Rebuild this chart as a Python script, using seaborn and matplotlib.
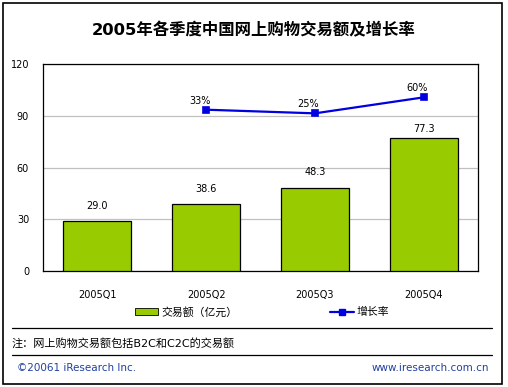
import numpy as np
import matplotlib
matplotlib.use("Agg")
import matplotlib.pyplot as plt
import matplotlib.patches as mpatches
import matplotlib.lines as mlines
import seaborn as sns

# ── Data ─────────────────────────────────────────────────────
quarters = ["2005Q1", "2005Q2", "2005Q3", "2005Q4"]
volume = [29.0, 38.6, 48.3, 77.3]          # 交易额（亿元）
growth_quarters = ["2005Q2", "2005Q3", "2005Q4"]
growth = [33, 25, 60]                       # 增长率 %
yticks = [0, 30, 60, 90, 120]

GREEN = "#99CC00"
BLUE = "#0000E0"
FOOT = "#2040A0"

sns.set_theme(style="white")
FONTS = ["DejaVu Sans", "Noto Sans CJK SC"]
plt.rcParams["font.family"] = FONTS
plt.rcParams["text.color"] = "black"

W, H = 508, 387
fig = plt.figure(figsize=(W / 100, H / 100), dpi=100)
fig.patch.set_facecolor("white")

def fx(px):
    return px / W

def fy(py):
    return 1 - py / H

# outer frame
fig.add_artist(mpatches.Rectangle((fx(3), fy(384)), fx(499), 381 / H,
                                  fill=False, edgecolor="black", lw=1.2,
                                  transform=fig.transFigure))

ax = fig.add_axes([fx(43), fy(271), fx(435), (271 - 64) / H])
sns.barplot(x=quarters, y=volume, color=GREEN, edgecolor="black",
            linewidth=0.9, width=0.625, saturation=1, ax=ax, zorder=3)
ax.set_ylim(0, 120)
ax.set_yticks(yticks)
ax.tick_params(axis="both", length=0, labelsize=7, colors="black")
ax.tick_params(axis="y", pad=10)
ax.tick_params(axis="x", pad=14)
ax.yaxis.grid(True, color="#C0C0C0", lw=0.9)
ax.set_axisbelow(True)
for s in ax.spines.values():
    s.set_visible(True)
    s.set_color("black")
    s.set_linewidth(0.9)
ax.set_xlabel("")
ax.set_ylabel("")
# last label sits lower, squeezed under the growth line
for i, v in enumerate(volume):
    off = 2 if i == len(volume) - 1 else 6
    ax.text(i, v + off, f"{v:.1f}", ha="center", va="bottom", fontsize=7)

# growth line on hidden secondary axis
ax2 = ax.twinx()
sns.pointplot(x=growth_quarters, y=growth, order=quarters, color=BLUE,
              markers="s", markersize=4, linewidth=1.6, ax=ax2)
ax2.set_ylim(-320, 133)
ax2.set_yticks([])
ax2.set_ylabel("")
for s in ax2.spines.values():
    s.set_visible(False)
for q, g in zip(growth_quarters, growth):
    ax2.text(quarters.index(q) - 0.06, g + 9, f"{g}%", ha="center",
             va="bottom", fontsize=7)
ax2.set_xticks(range(len(quarters)))
ax2.set_xticklabels(quarters)
ax2.set_xlim(-0.5, 3.5)

# title
fig.text(0.5, fy(30), "2005年各季度中国网上购物交易额及增长率", ha="center",
         va="center", fontsize=11.8, fontweight="bold", family=FONTS,
         color="black")

# legend
handles = [
    mpatches.Patch(facecolor=GREEN, edgecolor="black", lw=0.6,
                   label="交易额（亿元）"),
    mlines.Line2D([], [], color=BLUE, marker="s", markersize=4, lw=1.6,
                  label="增长率"),
]
fig.legend(handles=handles, loc="center", bbox_to_anchor=(fx(262), fy(312)),
           ncol=2, frameon=False, handlelength=2.2,
           handleheight=0.6, columnspacing=8.5, handletextpad=0.3,
           prop={"family": FONTS, "size": 7.8})

# separator lines and notes
for py in (328, 355):
    fig.add_artist(mlines.Line2D([fx(12), fx(492)], [fy(py), fy(py)],
                                 color="black", lw=0.9,
                                 transform=fig.transFigure))
fig.text(fx(12), fy(343), "注：网上购物交易额包括B2C和C2C的交易额", ha="left",
         va="center", fontsize=8, family=FONTS)
fig.text(fx(17), fy(368), "©20061 iResearch Inc.", ha="left", va="center",
         fontsize=7.5, color=FOOT)
fig.text(fx(489), fy(368), "www.iresearch.com.cn", ha="right", va="center",
         fontsize=7.5, color=FOOT)

fig.savefig("out.png", dpi=100, facecolor="white")
